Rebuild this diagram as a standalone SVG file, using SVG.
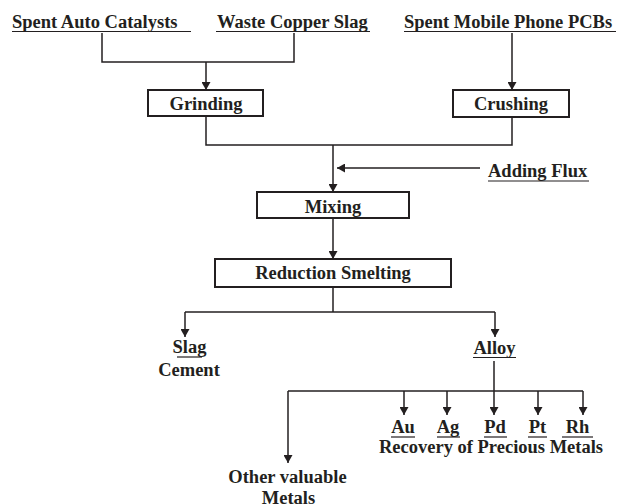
<svg xmlns="http://www.w3.org/2000/svg" width="618" height="504" viewBox="0 0 618 504">
<defs>
<style>
text{font-family:"Liberation Serif","Times New Roman",serif;font-weight:bold;font-size:18.5px;fill:#231f20}
.c{text-anchor:middle}
.box{fill:#fff;stroke:#231f20;stroke-width:2}
.ln{fill:none;stroke:#231f20;stroke-width:1.5}
.ul{stroke:#231f20;stroke-width:1.2}
</style>
<marker id="ah" viewBox="0 0 8 9" refX="8" refY="4.5" markerWidth="8" markerHeight="9" markerUnits="userSpaceOnUse" orient="auto">
<path d="M0,0 L8,4.5 L0,9 Z" fill="#231f20"/>
</marker>
</defs>
<rect width="618" height="504" fill="#fff"/>
<g id="connectors">
<path class="ln" d="M102,33 V62 H294 V33"/>
<path class="ln" d="M206,62 V90" marker-end="url(#ah)"/>
<path class="ln" d="M512,33 V90" marker-end="url(#ah)"/>
<path class="ln" d="M206,116 V145 H512 V117"/>
<path class="ln" d="M333,145 V192" marker-end="url(#ah)"/>
<path class="ln" d="M480,168 H337" marker-end="url(#ah)"/>
<path class="ln" d="M333,218 V259" marker-end="url(#ah)"/>
<path class="ln" d="M333,287 V312"/>
<path class="ln" d="M185,312 H495"/>
<path class="ln" d="M185,312 V337" marker-end="url(#ah)"/>
<path class="ln" d="M495,312 V337" marker-end="url(#ah)"/>
<path class="ln" d="M494,361 V391"/>
<path class="ln" d="M288,391 H583"/>
<path class="ln" d="M288,391 V463" marker-end="url(#ah)"/>
<path class="ln" d="M404,391 V415" marker-end="url(#ah)"/>
<path class="ln" d="M447,391 V415" marker-end="url(#ah)"/>
<path class="ln" d="M494,391 V415" marker-end="url(#ah)"/>
<path class="ln" d="M538,391 V415" marker-end="url(#ah)"/>
<path class="ln" d="M583,391 V415" marker-end="url(#ah)"/>
</g>
<g id="spent-auto-catalysts">
<text x="12" y="28">Spent Auto Catalysts</text>
<line class="ul" x1="12" y1="31.5" x2="191" y2="31.5"/>
</g>
<g id="waste-copper-slag">
<text x="217" y="28">Waste Copper Slag</text>
<line class="ul" x1="216" y1="31.5" x2="370" y2="31.5"/>
</g>
<g id="spent-mobile-pcbs">
<text x="404" y="28">Spent Mobile Phone PCBs</text>
<line class="ul" x1="404" y1="31.5" x2="616" y2="31.5"/>
</g>
<g id="grinding">
<rect class="box" x="148" y="90" width="115" height="26"/>
<text class="c" x="206" y="110">Grinding</text>
</g>
<g id="crushing">
<rect class="box" x="453" y="90" width="116" height="27"/>
<text class="c" x="511" y="110">Crushing</text>
</g>
<g id="adding-flux">
<text x="488" y="177">Adding Flux</text>
<line class="ul" x1="488" y1="181" x2="589" y2="181"/>
</g>
<g id="mixing">
<rect class="box" x="257" y="192" width="152" height="26"/>
<text class="c" x="333" y="213">Mixing</text>
</g>
<g id="reduction-smelting">
<rect class="box" x="215" y="259" width="236" height="28"/>
<text class="c" x="333" y="279">Reduction Smelting</text>
</g>
<g id="slag">
<text class="c" x="189.5" y="353">Slag</text>
<line class="ul" x1="177" y1="357" x2="202" y2="357"/>
<text class="c" x="189" y="376">Cement</text>
</g>
<g id="alloy">
<text class="c" x="494.5" y="354">Alloy</text>
<line class="ul" x1="473" y1="357.5" x2="516" y2="357.5"/>
</g>
<g id="precious-metals">
<text class="c" x="403" y="433">Au</text>
<line class="ul" x1="391" y1="437" x2="415" y2="437"/>
<text class="c" x="448" y="433">Ag</text>
<line class="ul" x1="437" y1="437" x2="460" y2="437"/>
<text class="c" x="495" y="433">Pd</text>
<line class="ul" x1="484" y1="437" x2="507" y2="437"/>
<text class="c" x="537.5" y="433">Pt</text>
<line class="ul" x1="528" y1="437" x2="547" y2="437"/>
<text class="c" x="577.5" y="433">Rh</text>
<line class="ul" x1="562" y1="437" x2="593" y2="437"/>
<text class="c" x="491" y="453">Recovery of Precious Metals</text>
</g>
<g id="other-metals">
<text class="c" x="287.5" y="483">Other valuable</text>
<text class="c" x="288.5" y="504">Metals</text>
</g>
</svg>
